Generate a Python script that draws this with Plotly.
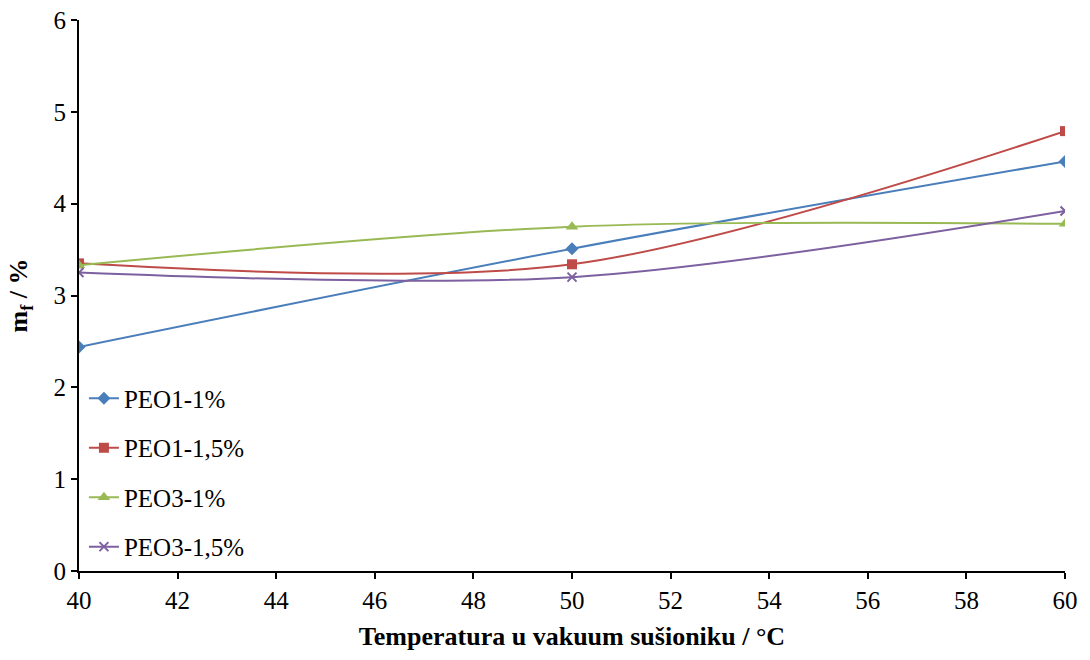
import plotly.graph_objects as go

temps = [40, 50, 60]
names = ["PEO1-1%", "PEO1-1,5%", "PEO3-1%", "PEO3-1,5%"]
peo1_1 = [2.44, 3.51, 4.46]
peo1_15 = [3.35, 3.34, 4.79]
peo3_1 = [3.33, 3.75, 3.78]
peo3_15 = [3.25, 3.20, 3.92]
series = [peo1_1, peo1_15, peo3_1, peo3_15]
colors = ["#4A7EBB", "#BE4B48", "#98B954", "#7D60A0"]
symbols = ["diamond", "square", "triangle-up", "x-thin"]
msizes = [10, 10, 11, 9]

fig = go.Figure()
for i, (n, y) in enumerate(zip(names, series)):
    fig.add_trace(go.Scatter(
        x=temps, y=y, name=n, mode="lines+markers",
        line=dict(color=colors[i], width=2, shape="spline", smoothing=0.9),
        marker=dict(symbol=symbols[i], size=msizes[i], color=colors[i],
                    line=dict(color=colors[i], width=2 if symbols[i] == "x-thin" else 0)),
        legendgroup=f"g{i}",
    ))

font = "Liberation Serif"
fs = 25
fig.update_layout(
    width=1090, height=660,
    margin=dict(l=79, r=25, t=20, b=89),
    plot_bgcolor="white", paper_bgcolor="white",
    font=dict(family=font, size=fs, color="black"),
    legend=dict(x=0.005, y=0.355, xanchor="left", yanchor="top",
                bgcolor="rgba(0,0,0,0)", tracegroupgap=14,
                font=dict(size=fs, family=font, color="black")),
    xaxis=dict(range=[40, 60], dtick=2, showgrid=False, zeroline=False,
               showline=True, linecolor="black", linewidth=2,
               ticks="outside", ticklen=6, tickwidth=2, tickcolor="black",
               tickfont=dict(size=fs, family=font, color="black"),
               automargin=False,
               title=dict(text="<b>Temperatura u vakuum sušioniku / °C</b>",
                          font=dict(size=26, family=font, color="black"), standoff=14)),
    yaxis=dict(range=[0, 6], dtick=1, showgrid=False, zeroline=False,
               showline=True, linecolor="black", linewidth=2,
               ticks="outside", ticklen=6, tickwidth=2, tickcolor="black",
               tickfont=dict(size=fs, family=font, color="black"),
               automargin=False,
               title=dict(text="<b>m<sub>f</sub> / %</b>",
                          font=dict(size=26, family=font, color="black"), standoff=18)),
)
fig.write_html("out.html", config={"displayModeBar": False},
               post_script="document.body.style.margin='0';document.body.style.overflow='hidden';")
